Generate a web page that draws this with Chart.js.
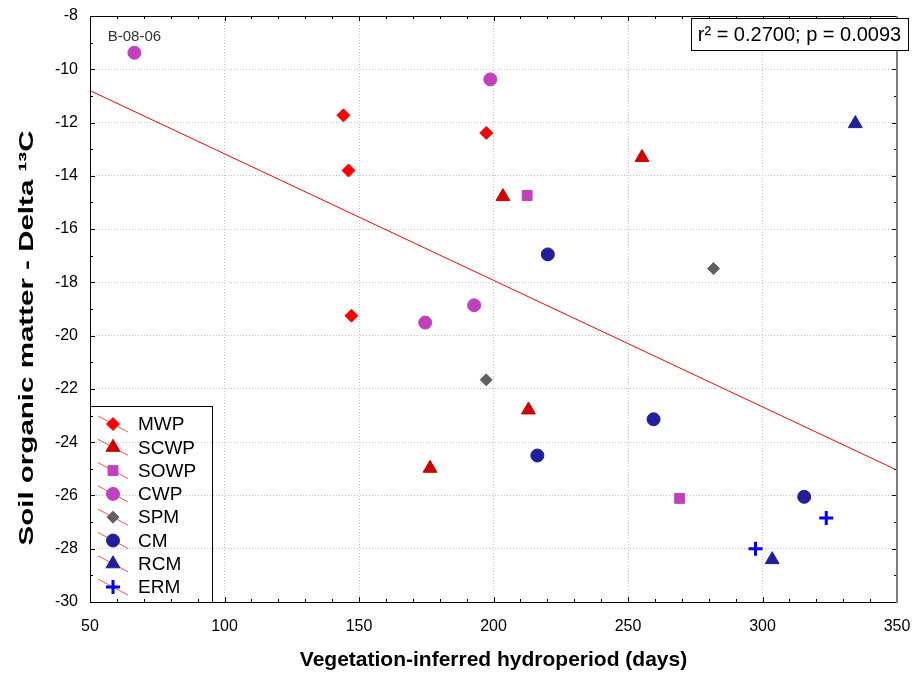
<!DOCTYPE html>
<html lang="en">
<head>
<meta charset="UTF-8">
<title>Soil organic matter vs hydroperiod</title>
<script src="https://cdn.jsdelivr.net/npm/chart.js"></script>
<style>
  html, body { margin: 0; padding: 0; background: #fff; }
  #wrap { width: 918px; height: 673px; }
</style>
</head>
<body>
<div id="wrap"><canvas id="chart" width="918" height="673"></canvas></div>
<script>
  // values (x = hydroperiod in days, y = delta 13C)
  const mwpX = [144.2, 146.1, 147.2, 197.3];
  const mwpY = [-11.73, -13.80, -19.25, -12.39];
  const scwpX = [176.4, 203.5, 213.0, 255.2];
  const scwpY = [-24.98, -14.78, -22.79, -13.31];
  const sowpX = [212.5, 269.2];
  const sowpY = [-14.74, -26.11];
  const cwpX = [66.5, 198.8, 192.8, 174.6];
  const cwpY = [-9.38, -10.38, -18.86, -19.51];
  const spmX = [197.3, 281.8];
  const spmY = [-21.66, -17.48];
  const cmX = [220.2, 216.3, 259.5, 315.5];
  const cmY = [-16.95, -24.5, -23.14, -26.05];
  const rcmX = [334.5, 303.6];
  const rcmY = [-12.04, -28.41];
  const ermX = [297.4, 323.7];
  const ermY = [-28.0, -26.85];

  // fitted line, read at the two plot edges
  const fitX = [50, 350];
  const fitY = [-10.8, -25.05];

  const xRange = [50, 350];
  const yRange = [-30, -8];
  const pointLabel = 'B-08-06';   // sits above the first CWP point
  const statsText = 'r² = 0.2700; p = 0.0093';
  const yTitle = 'Soil organic matter - Delta ¹³C';
  const xTitle = 'Vegetation-inferred hydroperiod (days)';

  const pts = (xs, ys) => xs.map((x, i) => ({ x, y: ys[i] }));

  function series(label, xs, ys, style, color, radius, border) {
    return {
      label,
      data: pts(xs, ys),
      pointStyle: style,
      pointRadius: radius,
      pointHoverRadius: radius,
      backgroundColor: color,
      borderColor: color,
      pointBorderWidth: border,
      showLine: false
    };
  }

  const datasets = [
    {
      label: 'fit',
      data: pts(fitX, fitY),
      showLine: true,
      borderColor: '#ff0000',
      borderWidth: 1,
      pointRadius: 0,
      pointHoverRadius: 0,
      fill: false
    },
    series('MWP', mwpX, mwpY, 'rectRot', '#ff0000', 6.5, 1),
    series('SCWP', scwpX, scwpY, 'triangle', '#d00000', 8, 1),
    series('SOWP', sowpX, sowpY, 'rect', '#c040c0', 7, 1),
    series('CWP', cwpX, cwpY, 'circle', '#c040c0', 6.5, 1),
    series('SPM', spmX, spmY, 'rectRot', '#606060', 6, 1),
    series('CM', cmX, cmY, 'circle', '#20209c', 6.5, 1),
    series('RCM', rcmX, rcmY, 'triangle', '#20209c', 8, 1),
    series('ERM', ermX, ermY, 'cross', '#0000ff', 7, 3)
  ];

  function drawMarker(ctx, ds, x, y) {
    ctx.fillStyle = ds.backgroundColor;
    ctx.strokeStyle = ds.borderColor;
    ctx.lineWidth = ds.pointBorderWidth;
    const opts = { pointStyle: ds.pointStyle, radius: ds.pointRadius, rotation: 0, borderWidth: ds.pointBorderWidth };
    if (Chart.helpers && Chart.helpers.drawPoint) {
      Chart.helpers.drawPoint(ctx, opts, x, y);
    } else {
      ctx.beginPath();
      ctx.arc(x, y, ds.pointRadius, 0, Math.PI * 2);
      ctx.fill();
    }
  }

  const decor = {
    id: 'decor',
    afterDatasetsDraw(chart) {
      const { ctx, chartArea: a, scales: { x, y } } = chart;
      ctx.save();

      // inward tick marks on all four sides
      ctx.strokeStyle = '#000';
      ctx.lineWidth = 1;
      ctx.beginPath();
      for (let v = xRange[0]; v <= xRange[1]; v += 10) {
        const px = Math.round(x.getPixelForValue(v)) + 0.5;
        const len = v % 50 === 0 ? 5 : 3;
        ctx.moveTo(px, a.top); ctx.lineTo(px, a.top + len);
        ctx.moveTo(px, a.bottom); ctx.lineTo(px, a.bottom - len);
      }
      for (let v = yRange[0]; v <= yRange[1]; v += 1) {
        const py = Math.round(y.getPixelForValue(v)) + 0.5;
        const len = v % 2 === 0 ? 5 : 3;
        ctx.moveTo(a.left, py); ctx.lineTo(a.left + len, py);
        ctx.moveTo(a.right, py); ctx.lineTo(a.right - len, py);
      }
      ctx.stroke();

      // frame
      ctx.beginPath();
      ctx.moveTo(a.right, a.top + 0.5);
      ctx.lineTo(a.left + 0.5, a.top + 0.5);
      ctx.lineTo(a.left + 0.5, a.bottom + 0.5);
      ctx.lineTo(a.right, a.bottom + 0.5);
      ctx.stroke();
      ctx.strokeStyle = '#808080';
      ctx.lineWidth = 2;
      ctx.beginPath();
      ctx.moveTo(a.right, a.top);
      ctx.lineTo(a.right, a.bottom + 1);
      ctx.stroke();

      // label above the B-08-06 point
      const lx = x.getPixelForValue(cwpX[0]);
      const ly = y.getPixelForValue(cwpY[0]);
      ctx.fillStyle = '#333';
      ctx.font = "15px 'Liberation Sans', Arial, sans-serif";
      ctx.textAlign = 'center';
      ctx.textBaseline = 'middle';
      ctx.fillText(pointLabel, lx, ly - 16);

      // statistics box, top right
      const bw = 217, bh = 32;
      const bx = a.right + 11 - bw, by = a.top + 2;
      ctx.fillStyle = '#fff';
      ctx.fillRect(bx, by, bw, bh);
      ctx.strokeStyle = '#000';
      ctx.lineWidth = 1;
      ctx.strokeRect(bx + 0.5, by + 0.5, bw, bh);
      ctx.fillStyle = '#000';
      ctx.font = "20px 'Liberation Sans', Arial, sans-serif";
      ctx.fillText(statsText, bx + bw / 2, by + bh / 2 + 1);

      // legend box, bottom left inside the plot
      const items = chart.data.datasets.slice(1);
      const lw = 122, rowH = 23.3;
      const top = a.bottom - 196;
      ctx.strokeStyle = '#000';
      ctx.lineWidth = 1;
      ctx.strokeRect(a.left + 0.5, top + 0.5, lw, a.bottom - top);
      ctx.textAlign = 'left';
      ctx.font = "19px 'Liberation Sans', Arial, sans-serif";
      items.forEach((ds, i) => {
        const cy = top + 18 + i * rowH;
        const cx = a.left + 23;
        ctx.strokeStyle = '#ff5050';
        ctx.lineWidth = 1;
        ctx.beginPath();
        ctx.moveTo(cx - 15, cy - 8);
        ctx.lineTo(cx + 15, cy + 8);
        ctx.stroke();
        drawMarker(ctx, ds, cx, cy);
        ctx.fillStyle = '#000';
        ctx.fillText(ds.label, a.left + 48, cy + 1);
      });

      // y axis title, stretched along its length like the reference
      ctx.font = "bold 21px 'Liberation Sans', Arial, sans-serif";
      ctx.textAlign = 'center';
      ctx.textBaseline = 'middle';
      const tw = ctx.measureText(yTitle).width;
      ctx.translate(27, a.bottom - 264);
      ctx.rotate(-Math.PI / 2);
      ctx.scale(415 / tw, 1);
      ctx.fillStyle = '#000';
      ctx.fillText(yTitle, 0, 0);

      ctx.restore();
    }
  };

  Chart.defaults.font.family = "'Liberation Sans', Arial, sans-serif";
  Chart.defaults.color = '#000';

  new Chart(document.getElementById('chart'), {
    type: 'scatter',
    data: { datasets },
    options: {
      responsive: false,
      animation: false,
      events: [],
      layout: { padding: { top: 16, right: 21, bottom: 0, left: 0 } },
      plugins: { legend: { display: false }, tooltip: { enabled: false } },
      scales: {
        x: {
          type: 'linear',
          min: xRange[0],
          max: xRange[1],
          afterFit(s) { s.height = 71; s.paddingLeft = 0; s.paddingRight = 0; },
          ticks: { stepSize: 50, padding: 15, font: { size: 16 }, color: '#000' },
          grid: { color: '#c4c4c4', drawTicks: false },
          border: { display: false, dash: [1, 2] },
          title: {
            display: true,
            text: xTitle,
            font: { size: 21, weight: 'bold' },
            padding: { top: 0, bottom: 0 }
          }
        },
        y: {
          type: 'linear',
          min: yRange[0],
          max: yRange[1],
          afterFit(s) { s.width = 90; s.paddingTop = 0; s.paddingBottom = 0; },
          ticks: { stepSize: 2, padding: 12, font: { size: 16 }, color: '#000' },
          grid: { color: '#c4c4c4', drawTicks: false },
          border: { display: false, dash: [1, 2] }
        }
      }
    },
    plugins: [decor]
  });
</script>
</body>
</html>
